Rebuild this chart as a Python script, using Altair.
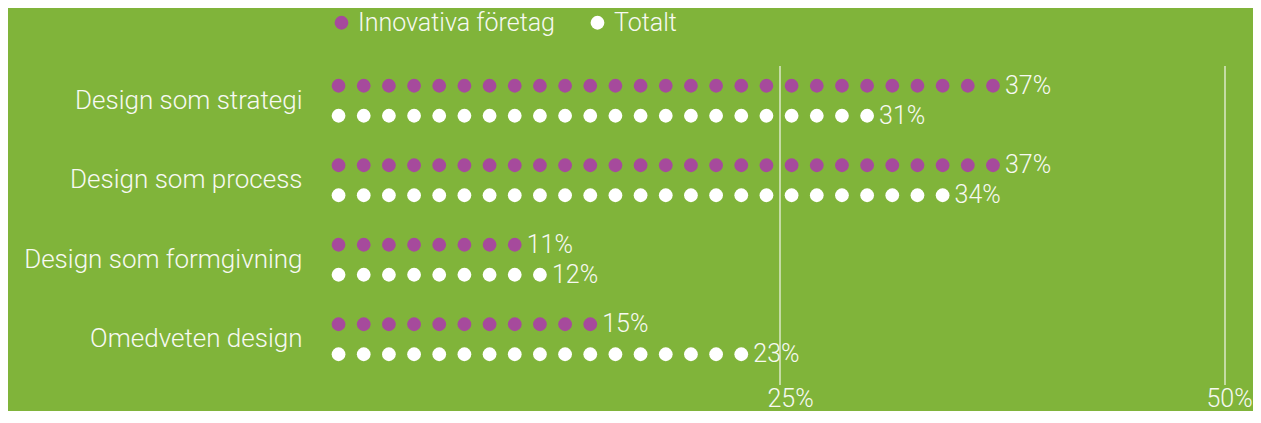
import altair as alt
import pandas as pd

# ---- data ----
categories = ["Design som strategi", "Design som process",
              "Design som formgivning", "Omedveten design"]
series = ["Innovativa företag", "Totalt"]
innov_values = [37, 37, 11, 15]
total_values = [31, 34, 12, 23]
innov_dots = [27, 27, 8, 11]   # number of dots drawn per row
total_dots = [22, 25, 9, 17]
tick_values = [25, 50]

# ---- style ----
BG = "#80b43a"
PURPLE = "#a64a9c"
WHITE = "#ffffff"
TEXT = "#f7f9f2"
GRID = "#e2edd2"
FONT = "Roboto"
WEIGHT = 300
DOT_START = 0.2     # position (in %) of the first dot
DOT_STEP = 1.414    # spacing between dots (in %)

dot_rows = []
label_rows = []
for cat, iv, tv, idn, tdn in zip(categories, innov_values, total_values,
                                 innov_dots, total_dots):
    for s, v, n in ((series[0], iv, idn), (series[1], tv, tdn)):
        for i in range(n):
            dot_rows.append({"cat": cat, "series": s,
                             "x": DOT_START + i * DOT_STEP})
        label_rows.append({"cat": cat, "series": s,
                           "x": DOT_START + (n - 1) * DOT_STEP,
                           "label": f"{v}%"})

dots_df = pd.DataFrame(dot_rows)
labels_df = pd.DataFrame(label_rows)
grid_df = pd.DataFrame({"x": tick_values})

x_scale = alt.Scale(domain=[0, 50], nice=False, zero=True)
y_scale = alt.Scale(paddingInner=0, paddingOuter=0)
yoff_scale = alt.Scale(type="point", padding=0.825)

x_enc = alt.X(
    "x:Q", scale=x_scale,
    axis=alt.Axis(
        values=tick_values, grid=False, ticks=False, domain=False,
        labelExpr="datum.value + '%'", labelFontSize=25,
        labelColor=TEXT, labelFont=FONT, labelFontWeight=WEIGHT,
        labelPadding=7, labelBaseline="top",
        labelOffset={"condition": {"test": "datum.value == 50", "value": 4},
                     "value": 10},
        labelFlush=False, title=None,
    ),
)
y_enc = alt.Y(
    "cat:N", sort=categories, scale=y_scale,
    axis=alt.Axis(title=None, ticks=False, domain=False, labelFontSize=26,
                  labelPadding=33, labelColor=TEXT, labelFont=FONT,
                  labelFontWeight=WEIGHT, labelLimit=500),
)
yoff_enc = alt.YOffset("series:N", sort=series, scale=yoff_scale)

grid = alt.Chart(grid_df).mark_rule(color=GRID, strokeWidth=1.4).encode(
    x=alt.X("x:Q", scale=x_scale),
    y=alt.value(5),
    y2=alt.value(324),
)

dots = alt.Chart(dots_df).mark_circle(size=190, opacity=1).encode(
    x=x_enc,
    y=y_enc,
    yOffset=yoff_enc,
    color=alt.Color(
        "series:N", sort=series,
        scale=alt.Scale(domain=series, range=[PURPLE, WHITE]),
        legend=alt.Legend(
            title=None, orient="none", legendX=-6, legendY=-51,
            direction="horizontal", labelFontSize=25, labelColor=TEXT,
            labelFont=FONT, labelFontWeight=WEIGHT, labelLimit=500,
            symbolSize=190, symbolType="circle", symbolStrokeWidth=0,
            symbolOpacity=1, labelOffset=4, columnPadding=30,
        ),
    ),
)

labels = alt.Chart(labels_df).mark_text(
    align="left", baseline="middle", dx=12, fontSize=25, font=FONT,
    fontWeight=WEIGHT, color=TEXT,
).encode(
    x=alt.X("x:Q", scale=x_scale),
    y=alt.Y("cat:N", sort=categories, scale=y_scale),
    yOffset=alt.YOffset("series:N", sort=series, scale=yoff_scale),
    text="label:N",
)

chart = alt.layer(grid, dots, labels).properties(
    width=890, height=318,
    padding={"left": 327, "top": 53, "right": 28, "bottom": 32},
    autosize=alt.AutoSizeParams(type="none"),
    background=BG,
).configure_view(stroke=None)

chart.save("out.html", embed_options={"renderer": "svg", "actions": False})
